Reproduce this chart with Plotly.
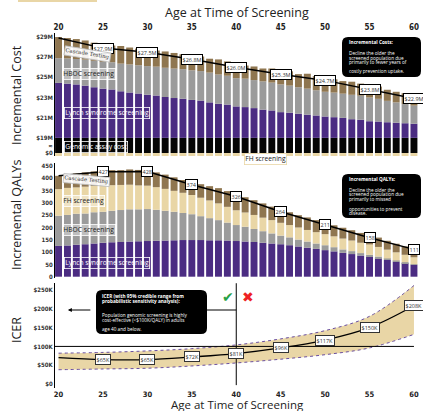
import plotly.graph_objects as go

W, H = 423, 411

# ---------------- DATA ----------------
AGES = list(range(20, 61))

# Panel 1: incremental cost segments ($M)
GENOMIC_ASSAY_COST_M = 19.0
cost_fh = [0.30, 0.30, 0.30, 0.30, 0.30, 0.30, 0.30, 0.30, 0.30, 0.30, 0.30, 0.30, 0.30, 0.30,
           0.30, 0.30, 0.30, 0.30, 0.30, 0.30, 0.30, 0.30, 0.30, 0.30, 0.30, 0.30, 0.30, 0.30,
           0.30, 0.30, 0.30, 0.30, 0.30, 0.30, 0.30, 0.30, 0.30, 0.30, 0.30, 0.30, 0.30]
cost_lynch = [5.45, 5.38, 5.30, 5.18, 5.02, 4.88, 4.80, 4.62, 4.50, 4.40, 4.28, 4.20, 4.05, 3.95,
              3.88, 3.76, 3.70, 3.52, 3.38, 3.30, 3.12, 3.05, 2.95, 2.80, 2.72, 2.55, 2.50, 2.40,
              2.30, 2.22, 2.12, 2.05, 1.98, 1.85, 1.80, 1.65, 1.62, 1.55, 1.50, 1.45, 1.40]
cost_hboc = [2.45, 2.50, 2.52, 2.58, 2.62, 2.65, 2.70, 2.74, 2.78, 2.80, 2.84, 2.86, 2.90, 2.92,
             2.93, 2.94, 2.92, 2.95, 2.90, 2.86, 2.80, 2.82, 2.78, 2.80, 2.76, 2.75, 2.68, 2.62,
             2.58, 2.50, 2.45, 2.44, 2.40, 2.42, 2.38, 2.35, 2.25, 2.12, 2.02, 1.90, 1.80]
cost_cascade = [2.10, 2.02, 1.98, 1.90, 1.80, 1.70, 1.66, 1.75, 1.68, 1.65, 1.70, 1.60, 1.62, 1.55,
                1.48, 1.40, 1.45, 1.38, 1.50, 1.42, 1.40, 1.30, 1.35, 1.28, 1.40, 1.35, 1.42, 1.30,
                1.48, 1.40, 1.45, 1.32, 1.25, 1.30, 1.20, 1.15, 1.22, 1.10, 1.05, 1.08, 1.00]
cost_line_ages = [20, 25, 30, 35, 40, 45, 50, 55, 60]
cost_line_m = [28.9, 27.9, 27.5, 26.8, 26.0, 25.3, 24.7, 23.8, 22.9]
cost_ticks_m = [19, 21, 23, 25, 27, 29]

# Panel 2: incremental QALYs
qaly_lynch = [125, 127, 130, 132, 135, 138, 140, 141, 143, 144, 145, 146, 147, 148, 149, 149, 149,
              148, 148, 147, 145, 143, 141, 138, 135, 132, 128, 123, 118, 113, 108, 103, 97, 92,
              86, 81, 75, 68, 61, 55, 48]
qaly_hboc = [123, 124, 126, 125, 127, 126, 128, 130, 131, 130, 130, 126, 121, 116, 110, 105, 97,
             90, 82, 73, 65, 60, 53, 47, 41, 35, 32, 28, 25, 22, 20, 17, 14, 12, 10, 8, 7, 6, 5, 4, 3]
qaly_fh = [108, 110, 107, 109, 107, 106, 104, 102, 100, 97, 95, 92, 89, 85, 82, 78, 75, 72, 68,
           64, 60, 58, 57, 55, 54, 52, 50, 49, 47, 46, 45, 44, 44, 43, 42, 42, 39, 36, 33, 30, 28]
qaly_cascade = [54, 56, 57, 58, 59, 60, 61, 60, 62, 63, 62, 60, 58, 55, 52, 50, 55, 58, 62, 64,
                65, 62, 60, 58, 55, 53, 52, 50, 51, 49, 48, 45, 44, 42, 40, 36, 38, 36, 35, 34, 34]
qaly_line_ages = [20, 25, 30, 35, 40, 45, 50, 55, 60]
qaly_line = [410, 427, 428, 374, 326, 264, 211, 158, 111]

# Panel 3: ICER ($K per QALY)
icer_ages = [20, 25, 30, 35, 40, 45, 50, 55, 60]
icer_mean = [70, 65, 65, 72, 81, 96, 117, 150, 208]
icer_upper = [82, 84, 88, 94, 104, 120, 142, 180, 262]
icer_lower = [38, 40, 42, 48, 56, 66, 78, 96, 132]
icer_threshold = 100
icer_ticks = [0, 50, 100, 150, 200, 250]
age_ticks = [20, 25, 30, 35, 40, 45, 50, 55, 60]

# ---------------- STYLE ----------------
PURPLE = "#4b2c82"
GREY = "#9b9b9b"
TAN = "#e9d6a6"
BROWN = "#8f7650"
BLACK = "#050505"
TXT = "#222222"
TICKFONT = dict(family="Liberation Sans Narrow, DejaVu Sans Condensed, Roboto", size=6, color="#333", weight="bold")
TITLEFONT = dict(family="Open Sans", size=12.5, color=TXT)

BREAK_DISPLAY = 1.5  # display units occupied by $0..$19M


def disp(v):
    return BREAK_DISPLAY + (v - GENOMIC_ASSAY_COST_M)


def X(px):
    return px / W


def Y(py):
    return 1 - py / H


def icer_val(py):  # pixel row -> ICER axis value
    return (384 - py) / 0.376


XR = [19.6, 60.68]
XDOM = [55 / W, 420 / W]
BW = 0.78

fig = go.Figure()

# ---- Panel 1 bars ----
n = len(AGES)
lyn_base = [BREAK_DISPLAY] * n
hb_base = [BREAK_DISPLAY + a for a in cost_lynch]
cas_base = [BREAK_DISPLAY + a + b for a, b in zip(cost_lynch, cost_hboc)]
fig.add_bar(x=AGES, y=cost_fh, base=[-v for v in cost_fh], marker=dict(color=TAN, line=dict(width=0)),
            width=BW, xaxis="x", yaxis="y", showlegend=False, hoverinfo="skip")
fig.add_bar(x=AGES, y=[disp(GENOMIC_ASSAY_COST_M)] * n, base=[0] * n, marker=dict(color=BLACK, line=dict(width=0)),
            width=BW, xaxis="x", yaxis="y", showlegend=False, hoverinfo="skip")
fig.add_bar(x=AGES, y=cost_lynch, base=lyn_base, marker=dict(color=PURPLE, line=dict(width=0)),
            width=BW, xaxis="x", yaxis="y", showlegend=False, hoverinfo="skip")
fig.add_bar(x=AGES, y=cost_hboc, base=hb_base, marker=dict(color=GREY, line=dict(width=0)),
            width=BW, xaxis="x", yaxis="y", showlegend=False, hoverinfo="skip")
fig.add_bar(x=AGES, y=cost_cascade, base=cas_base, marker=dict(color=BROWN, line=dict(width=0)),
            width=BW, xaxis="x", yaxis="y", showlegend=False, hoverinfo="skip")
fig.add_scatter(x=cost_line_ages, y=[disp(v) for v in cost_line_m], mode="lines",
                line=dict(color="black", width=1.5), xaxis="x", yaxis="y", showlegend=False, hoverinfo="skip")

# ---- Panel 2 bars ----
q_hb_base = list(qaly_lynch)
q_fh_base = [a + b for a, b in zip(qaly_lynch, qaly_hboc)]
q_cas_base = [a + b + c for a, b, c in zip(qaly_lynch, qaly_hboc, qaly_fh)]
for yv, bs, col in [(qaly_lynch, [0] * n, PURPLE), (qaly_hboc, q_hb_base, GREY),
                    (qaly_fh, q_fh_base, TAN), (qaly_cascade, q_cas_base, BROWN)]:
    fig.add_bar(x=AGES, y=yv, base=bs, marker=dict(color=col, line=dict(width=0)), width=BW,
                xaxis="x2", yaxis="y2", showlegend=False, hoverinfo="skip")
fig.add_scatter(x=qaly_line_ages, y=qaly_line, mode="lines", line=dict(color="black", width=1.5),
                xaxis="x2", yaxis="y2", showlegend=False, hoverinfo="skip")

# ---- Panel 3 ICER ----
fig.add_scatter(x=icer_ages, y=icer_upper, mode="lines", line=dict(color="#6a4fa0", width=1, dash="dot", shape="spline"),
                xaxis="x3", yaxis="y3", showlegend=False, hoverinfo="skip")
fig.add_scatter(x=icer_ages, y=icer_lower, mode="lines", line=dict(color="#6a4fa0", width=1, dash="dot", shape="spline"),
                fill="tonexty", fillcolor=TAN, xaxis="x3", yaxis="y3", showlegend=False, hoverinfo="skip")
fig.add_scatter(x=icer_ages, y=icer_mean, mode="lines", line=dict(color="black", width=1.3, shape="spline"),
                xaxis="x3", yaxis="y3", showlegend=False, hoverinfo="skip")

shapes = []
shapes.append(dict(type="line", xref="x3", yref="y3", x0=XR[0], x1=60, y0=icer_threshold, y1=icer_threshold,
                   line=dict(color="black", width=1), layer="above"))
shapes.append(dict(type="line", xref="x3", yref="y3", x0=40, x1=40, y0=-3, y1=268,
                   line=dict(color="black", width=1), layer="above"))
shapes.append(dict(type="rect", xref="paper", yref="paper", x0=X(18), x1=X(97), y0=Y(2), y1=Y(0),
                   fillcolor=TAN, line=dict(width=0)))


def rrect(x0, y0, x1, y1, r=6):
    return (f"M {X(x0 + r)},{Y(y0)} L {X(x1 - r)},{Y(y0)} Q {X(x1)},{Y(y0)} {X(x1)},{Y(y0 + r)} "
            f"L {X(x1)},{Y(y1 - r)} Q {X(x1)},{Y(y1)} {X(x1 - r)},{Y(y1)} "
            f"L {X(x0 + r)},{Y(y1)} Q {X(x0)},{Y(y1)} {X(x0)},{Y(y1 - r)} "
            f"L {X(x0)},{Y(y0 + r)} Q {X(x0)},{Y(y0)} {X(x0 + r)},{Y(y0)} Z")


ARROW_Y = icer_val(310)
shapes.append(dict(type="line", xref="x3", yref="y3", x0=36.3, x1=40, y0=ARROW_Y, y1=ARROW_Y,
                   line=dict(color="black", width=1)))
for (bx0, by0, bx1, by1) in [(342, 37, 421, 77), (342, 174, 421, 218), (96, 290, 207, 334)]:
    shapes.append(dict(type="path", xref="paper", yref="paper", path=rrect(bx0, by0, bx1, by1),
                       fillcolor="black", line=dict(width=0), layer="above"))

ann = []
BOXFONT = dict(family="Open Sans", size=4.7, color="white")

box_lines = [
    (347, [("<b>Incremental Costs:</b>", 42), ("Decline the older the", 52.5), ("screened population due", 57.5),
           ("primarily to fewer years of", 62.5), ("costly prevention uptake.", 71.5)]),
    (347, [("<b>Incremental QALYs:</b>", 179), ("Decline the older the", 189.5), ("screened population due", 194),
           ("primarily to missed", 198.5), ("opportunities to prevent", 208.5), ("disease.", 213)]),
    (100, [("<b>ICER (with 95% credible range from</b>", 296), ("<b>probabilistic sensitivity analysis):</b>", 300.5),
           ("Population genomic screening is highly", 314.5), ("cost-effective (&lt;$100K/QALY) in adults", 319.5),
           ("age 40 and below.", 328.5)]),
]
for bx, lines in box_lines:
    for txt, py in lines:
        ann.append(dict(xref="paper", yref="paper", x=X(bx), y=Y(py), xanchor="left", yanchor="middle",
                        showarrow=False, align="left", font=BOXFONT, text=txt))

ann.append(dict(xref="x3", yref="y3", x=21.05, y=ARROW_Y, axref="x3", ayref="y3", ax=23.75, ay=ARROW_Y,
                showarrow=True, arrowhead=2, arrowsize=0.8, arrowwidth=1, arrowcolor="black", text=""))
ann.append(dict(xref="x3", yref="paper", x=39.1, y=Y(297), text="✔", showarrow=False,
                xanchor="center", yanchor="middle",
                font=dict(size=14, color="#27a147", family="DejaVu Sans")))
ann.append(dict(xref="x3", yref="paper", x=41.3, y=Y(297), text="✖", showarrow=False,
                xanchor="center", yanchor="middle",
                font=dict(size=14, color="#ee2124", family="DejaVu Sans")))

LBL = dict(family="Open Sans", size=5.5, color="#333")
for a, v in zip(cost_line_ages[1:], cost_line_m[1:]):
    ann.append(dict(xref="x", yref="y", x=a, y=disp(v), text=f"${v:.1f}M", showarrow=False, font=LBL,
                    bgcolor="white", bordercolor="black", borderwidth=1, borderpad=0.5))
for a, v in zip(qaly_line_ages[1:], qaly_line[1:]):
    ann.append(dict(xref="x2", yref="y2", x=a, y=v, text=f"{v}", showarrow=False, font=LBL,
                    bgcolor="white", bordercolor="black", borderwidth=1, borderpad=0.5))
for a, v in zip(icer_ages[1:], icer_mean[1:]):
    ann.append(dict(xref="x3", yref="y3", x=a, y=v, text=f"${v}K", showarrow=False, font=LBL,
                    bgcolor="white", bordercolor="#333", borderwidth=1, borderpad=0.5))

SEG_DARK = dict(family="Open Sans", size=6.7, color="#222")
SEG_LIGHT = dict(family="Open Sans", size=6.7, color="white")
CASC = dict(family="DejaVu Serif", size=5.3, color="#333")
WBG = "rgba(255,255,255,0.9)"
HBG = "rgba(255,255,255,0.35)"


def seg(xref, yref, x, y, text, font, bg=None, border="white", angle=0):
    d = dict(xref=xref, yref=yref, x=x, y=y, text=text, showarrow=False, font=font, textangle=angle,
             xanchor="center", yanchor="middle", bordercolor=border, borderwidth=0.8, borderpad=0.5)
    if bg:
        d["bgcolor"] = bg
    return d


ann.append(seg("x", "y", 23.26, 9.82, "Cascade Testing", CASC, bg=WBG, border="#bbb", angle=9))
ann.append(seg("x", "y", 23.43, 7.83, "HBOC screening", SEG_DARK, bg=HBG))
ann.append(seg("x", "y", 25.4, 3.95, "Lynch syndrome screening", SEG_LIGHT))
ann.append(seg("x", "y", 24.16, 0.62, "Genomic assay cost", SEG_LIGHT))
ann.append(seg("x", "paper", 43.3, Y(158.5), "FH screening", SEG_DARK, bg="white", border=TAN))
ann.append(seg("x2", "y2", 23.14, 392, "Cascade Testing", CASC, bg=WBG, border="#bbb", angle=5))
ann.append(seg("x2", "y2", 22.8, 308, "FH screening", SEG_DARK, bg=HBG))
ann.append(seg("x2", "y2", 23.43, 190, "HBOC screening", SEG_DARK, bg=HBG))
ann.append(seg("x2", "y2", 25.4, 56, "Lynch syndrome screening", SEG_LIGHT))

ann.append(dict(xref="paper", yref="paper", x=X(237), y=Y(13), text="Age at Time of Screening", showarrow=False,
                xanchor="center", yanchor="middle", font=TITLEFONT))
ann.append(dict(xref="paper", yref="paper", x=X(237), y=Y(404), text="Age at Time of Screening", showarrow=False,
                xanchor="center", yanchor="middle", font=dict(family="Open Sans", size=11.5, color=TXT)))
for txt, yc in [("Incremental Cost", 95), ("Incremental QALYs", 215), ("ICER", 330)]:
    ann.append(dict(xref="paper", yref="paper", x=X(16), y=Y(yc), text=txt, textangle=-90, showarrow=False,
                    xanchor="center", yanchor="middle", font=TITLEFONT))

cost_tickvals = [0, BREAK_DISPLAY / 2] + [disp(v) for v in cost_ticks_m]
cost_ticktext = ["$0", "≈"] + [f"${v}M" for v in cost_ticks_m]

common_x = dict(domain=XDOM, range=XR, showgrid=False, zeroline=False, showline=False, ticks="",
                automargin=False)
common_y = dict(showgrid=False, zeroline=False, showline=True, linecolor="black", linewidth=1, ticks="",
                tickfont=TICKFONT, automargin=False)

fig.update_layout(
    width=W, height=H, margin=dict(l=0, r=0, t=0, b=0, pad=0),
    paper_bgcolor="white", plot_bgcolor="white", barmode="overlay", hovermode=False,
    xaxis=dict(**common_x, anchor="y", side="top", tickvals=age_ticks,
               tickfont=dict(family=TICKFONT["family"], size=8, color="#222", weight="bold")),
    yaxis=dict(**common_y, domain=[Y(156), Y(33)], range=[-0.3, 11.9], anchor="x",
               tickvals=cost_tickvals, ticktext=cost_ticktext),
    xaxis2=dict(**common_x, anchor="y2", showticklabels=False),
    yaxis2=dict(**common_y, domain=[Y(278), Y(163)], range=[-5.3, 462.2], anchor="x2",
                tickvals=list(range(0, 451, 50))),
    xaxis3=dict(**common_x, anchor="y3", side="bottom", tickvals=age_ticks, ticklabelstandoff=0,
                tickfont=dict(family=TICKFONT["family"], size=7.5, color="#222", weight="bold")),
    yaxis3=dict(**common_y, domain=[Y(388), Y(283)], range=[-10.6, 268.6], anchor="x3",
                tickvals=icer_ticks, ticktext=["$0"] + [f"${v}K" for v in icer_ticks[1:]]),
    shapes=shapes, annotations=ann,
)

fig.write_html("out.html", config={"displayModeBar": False},
               post_script="document.body.style.margin='0';document.body.style.padding='0';"
                           "document.body.style.overflow='hidden';")
